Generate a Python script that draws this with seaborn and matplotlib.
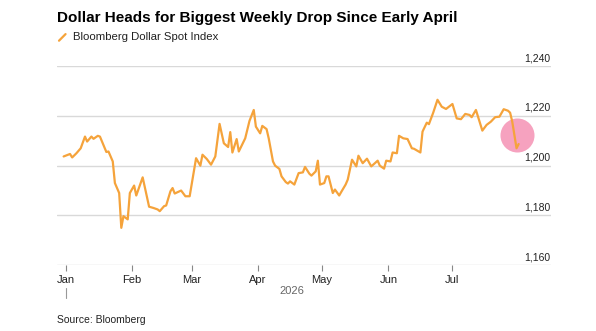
import pandas as pd
import seaborn as sns
import matplotlib.pyplot as plt
import matplotlib.transforms as mtransforms

# Bloomberg Dollar Spot Index
dates = [
    "2025-12-31", "2026-01-03", "2026-01-04", "2026-01-06", "2026-01-08", "2026-01-10",
    "2026-01-11", "2026-01-13", "2026-01-14", "2026-01-16", "2026-01-17", "2026-01-20",
    "2026-01-21", "2026-01-23", "2026-01-24", "2026-01-26", "2026-01-27", "2026-01-28",
    "2026-01-30", "2026-01-31", "2026-02-02", "2026-02-03", "2026-02-06", "2026-02-09",
    "2026-02-11", "2026-02-13", "2026-02-14", "2026-02-16", "2026-02-17", "2026-02-19",
    "2026-02-20", "2026-02-21", "2026-02-24", "2026-02-26", "2026-02-28", "2026-03-03",
    "2026-03-05", "2026-03-06", "2026-03-08", "2026-03-10", "2026-03-12", "2026-03-14",
    "2026-03-16", "2026-03-18", "2026-03-19", "2026-03-20", "2026-03-22", "2026-03-23",
    "2026-03-26", "2026-03-28", "2026-03-30", "2026-03-31", "2026-04-02", "2026-04-03",
    "2026-04-05", "2026-04-06", "2026-04-08", "2026-04-09", "2026-04-11", "2026-04-12",
    "2026-04-14", "2026-04-15", "2026-04-16", "2026-04-18", "2026-04-20", "2026-04-22",
    "2026-04-23", "2026-04-25", "2026-04-26", "2026-04-28", "2026-04-29", "2026-04-30",
    "2026-05-02", "2026-05-03", "2026-05-04", "2026-05-06", "2026-05-07", "2026-05-09",
    "2026-05-10", "2026-05-12", "2026-05-13", "2026-05-15", "2026-05-17", "2026-05-18",
    "2026-05-20", "2026-05-22", "2026-05-24", "2026-05-27", "2026-05-28", "2026-05-30",
    "2026-05-31", "2026-06-02", "2026-06-03", "2026-06-05", "2026-06-06", "2026-06-08",
    "2026-06-10", "2026-06-12", "2026-06-13", "2026-06-16", "2026-06-17", "2026-06-19",
    "2026-06-20", "2026-06-22", "2026-06-24", "2026-06-26", "2026-06-28", "2026-07-01",
    "2026-07-03", "2026-07-05", "2026-07-07", "2026-07-09", "2026-07-10", "2026-07-12",
    "2026-07-15", "2026-07-17", "2026-07-19", "2026-07-21", "2026-07-23", "2026-07-25",
    "2026-07-27", "2026-07-28", "2026-07-29", "2026-07-31", "2026-08-01",
]
values = [
    1203.7, 1204.7, 1203.3, 1205.0, 1207.0, 1211.7,
    1209.7, 1211.7, 1210.8, 1212.0, 1211.7, 1205.5,
    1205.7, 1201.7, 1193.0, 1189.0, 1175.0, 1179.7,
    1178.4, 1189.0, 1192.0, 1188.0, 1195.3, 1183.5,
    1183.0, 1182.4, 1181.7, 1183.7, 1184.0, 1189.7,
    1191.0, 1188.8, 1190.0, 1187.7, 1187.7, 1203.0,
    1200.0, 1204.4, 1202.7, 1200.4, 1203.7, 1216.8,
    1209.0, 1207.5, 1213.5, 1205.3, 1210.7, 1205.7,
    1211.0, 1218.0, 1222.4, 1215.7, 1213.0, 1216.0,
    1214.7, 1211.0, 1201.7, 1200.0, 1198.7, 1195.7,
    1193.4, 1192.8, 1193.7, 1192.4, 1197.0, 1197.3,
    1199.5, 1196.8, 1196.0, 1197.7, 1202.0, 1192.4,
    1193.0, 1195.7, 1195.7, 1189.0, 1190.4, 1188.0,
    1189.5, 1192.4, 1194.4, 1202.4, 1199.7, 1204.0,
    1201.0, 1202.8, 1199.7, 1202.0, 1200.0, 1198.8,
    1202.0, 1201.7, 1205.3, 1205.0, 1212.0, 1211.0,
    1210.7, 1207.0, 1206.8, 1205.3, 1213.7, 1217.3,
    1216.7, 1221.3, 1226.5, 1223.7, 1222.8, 1224.8,
    1219.0, 1218.7, 1220.8, 1220.4, 1219.5, 1222.4,
    1214.1, 1216.4, 1217.7, 1219.5, 1219.7, 1222.7,
    1222.1, 1221.3, 1217.7, 1207.0, 1208.7,
]
month_ticks = ["2026-01-01", "2026-02-01", "2026-03-01", "2026-04-01",
               "2026-05-01", "2026-06-01", "2026-07-01"]
month_labels = ["Jan", "Feb", "Mar", "Apr", "May", "Jun", "Jul"]
y_ticks = [1160, 1180, 1200, 1220, 1240]
highlight_date = "2026-07-31"
highlight_value = 1212.4

df = pd.DataFrame({"date": pd.to_datetime(dates), "value": values})

sns.set_style("white")
plt.rcParams["font.family"] = ["Liberation Sans", "DejaVu Sans"]

fig = plt.figure(figsize=(5.96, 3.31), dpi=100)
ax = fig.add_axes([0.096, 0.199, 0.828, 0.601])

line_color = "#f5a33b"
# pink highlight circle sits under the line
ax.scatter([pd.Timestamp(highlight_date)], [highlight_value], s=600,
           color="#f6a2bf", linewidths=0, zorder=1)
sns.lineplot(data=df, x="date", y="value", ax=ax, color=line_color, linewidth=1.6, zorder=2)

ax.set_xlim(pd.Timestamp("2025-12-28"), pd.Timestamp("2026-08-16"))
ax.set_ylim(1160, 1240)

for s in ax.spines.values():
    s.set_visible(False)
ax.set_yticks(y_ticks)
ax.set_yticklabels([])
ax.tick_params(axis="y", length=0)
ax.grid(axis="y", color="#d9d9d9", linewidth=1, zorder=0)
ax.grid(axis="x", visible=False)
ax.set_axisbelow(True)
trans = mtransforms.blended_transform_factory(ax.transAxes, ax.transData)
for v in y_ticks:
    ax.text(1.0, v + 1.2, f"{v:,}", transform=trans, ha="right", va="bottom",
            fontsize=7.5, color="#222222")

ax.set_xticks(pd.to_datetime(month_ticks))
ax.set_xticklabels(month_labels)
ax.tick_params(axis="x", length=4, width=0.8, color="#888888", labelsize=8,
               labelcolor="#222222", pad=3, bottom=True)
ax.set_xlabel("")
ax.set_ylabel("")

# year marker under the axis
tx = mtransforms.blended_transform_factory(ax.transData, ax.transAxes)
ax.plot([pd.Timestamp(month_ticks[0])] * 2, [-0.116, -0.166], transform=tx,
        color="#999999", linewidth=0.8, clip_on=False)
fig.text(0.49, 0.121, "2026", fontsize=8, color="#666666", ha="center", va="center")

fig.text(0.096, 0.945, "Dollar Heads for Biggest Weekly Drop Since Early April",
         fontsize=11, fontweight="bold", color="#000000", ha="left", va="center")
fig.lines.append(plt.Line2D([0.099, 0.11], [0.877, 0.897], transform=fig.transFigure,
                            color=line_color, linewidth=1.6))
fig.text(0.122, 0.888, "Bloomberg Dollar Spot Index", fontsize=8.2, color="#222222",
         ha="left", va="center")
fig.text(0.096, 0.033, "Source: Bloomberg", fontsize=7.5, color="#222222",
         ha="left", va="center")

fig.savefig("out.png", dpi=100)
